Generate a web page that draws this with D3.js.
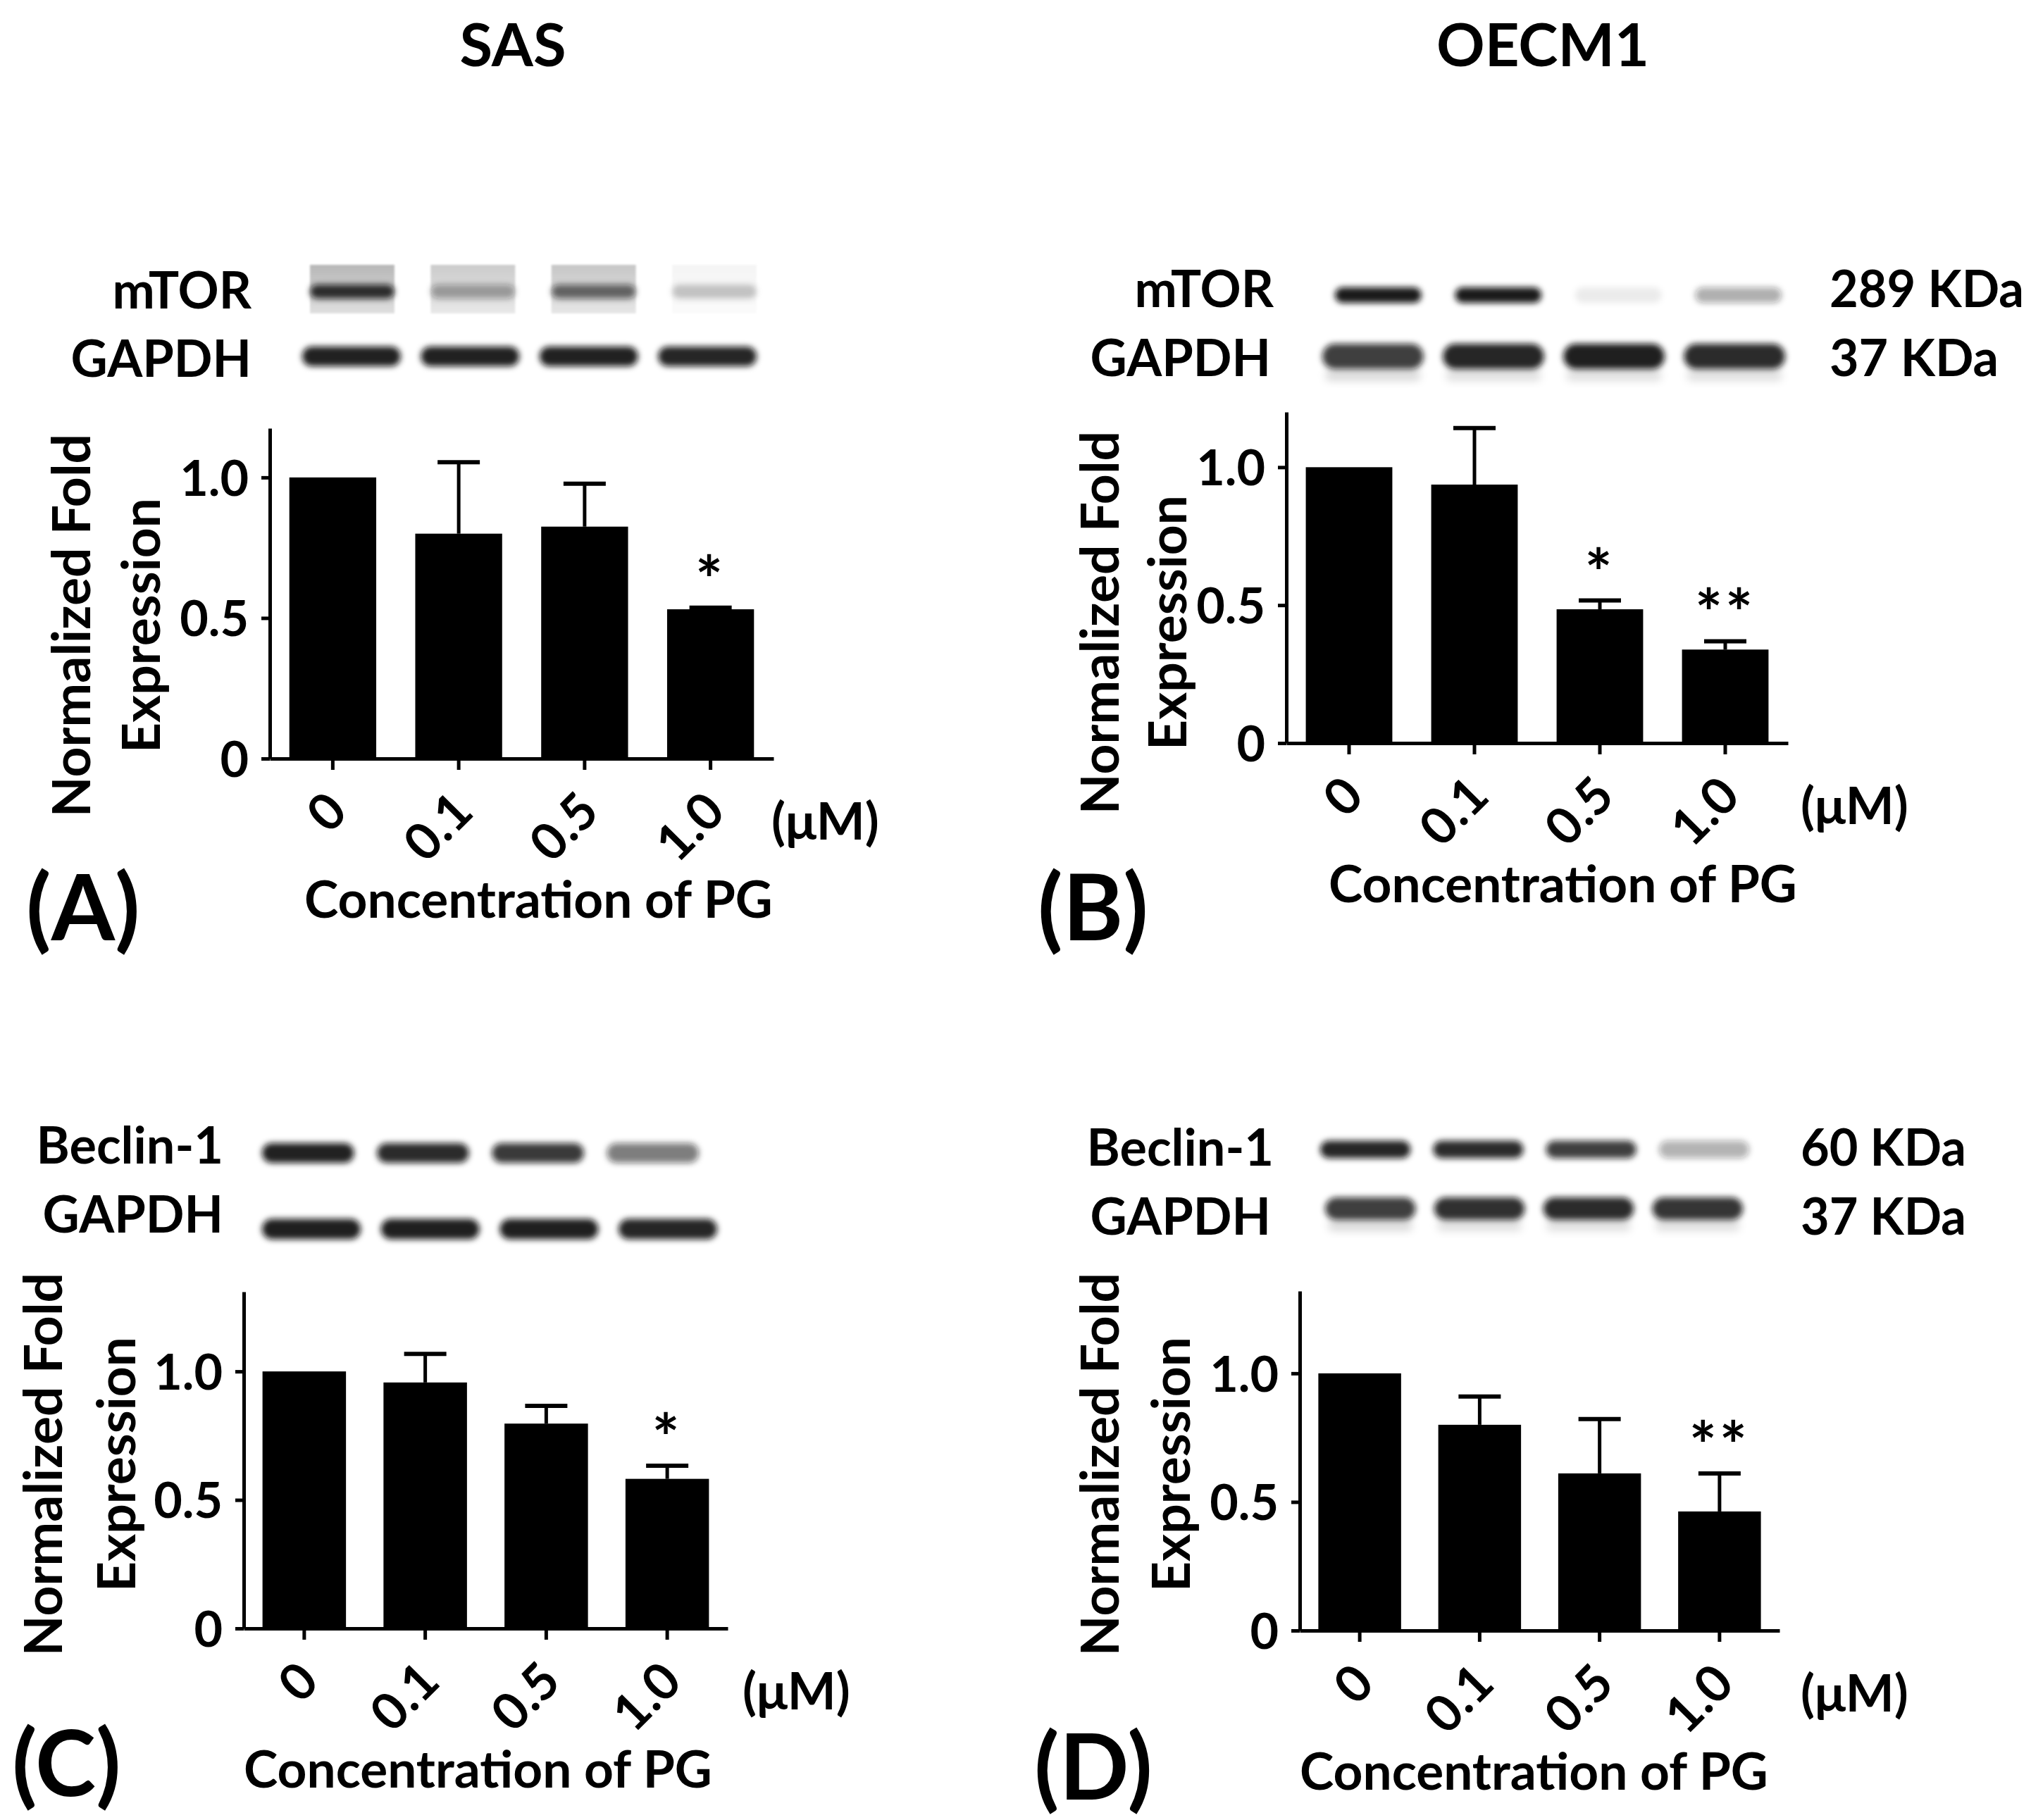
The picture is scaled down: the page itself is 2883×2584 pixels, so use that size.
<!DOCTYPE html>
<html>
<head>
<meta charset="utf-8">
<script src="https://cdn.jsdelivr.net/npm/d3@7"></script>
<style>
  body { margin: 0; background: #fff; }
  text { font-family: Lato, "Open Sans", sans-serif; fill: #000; }
</style>
</head>
<body>
<div id="fig"></div>
<script>
// --- data ---
var doses = ["0", "0.1", "0.5", "1.0"];
var yTicks = [0, 0.5, 1.0];

// normalized fold expression (mean) and upper error (SD)
var mtorSasMean = [1.0, 0.80, 0.825, 0.531];
var mtorSasErr = [0, 0.254, 0.153, 0.006];
var mtorSasStar = ["", "", "", "*"];

var mtorOecmMean = [1.0, 0.937, 0.485, 0.339];
var mtorOecmErr = [0, 0.205, 0.032, 0.030];
var mtorOecmStar = ["", "", "*", "**"];

var beclinSasMean = [1.0, 0.957, 0.797, 0.582];
var beclinSasErr = [0, 0.111, 0.069, 0.051];
var beclinSasStar = ["", "", "", "*"];

var beclinOecmMean = [1.0, 0.80, 0.611, 0.463];
var beclinOecmErr = [0, 0.11, 0.211, 0.148];
var beclinOecmStar = ["", "", "", "**"];

// western blot band darkness per lane (0 = blank, 1 = black)
var mtorSasBand = [0.85, 0.35, 0.6, 0.22];
var mtorSasLane = [0.28, 0.2, 0.22, 0.04];
var gapdhSasBandA = [0.92, 0.92, 0.92, 0.9];
var mtorOecmBand = [0.95, 0.95, 0.08, 0.35];
var gapdhOecmBandB = [0.8, 0.9, 0.93, 0.88];
var gapdhOecmGhostB = [0.14, 0.12, 0.12, 0.12];
var beclinSasBand = [0.92, 0.88, 0.82, 0.55];
var gapdhSasBandC = [0.93, 0.93, 0.93, 0.9];
var beclinOecmBand = [0.9, 0.88, 0.8, 0.33];
var gapdhOecmBandD = [0.8, 0.86, 0.88, 0.84];
var gapdhOecmGhostD = [0.14, 0.12, 0.12, 0.12];

var cellLines = ["SAS", "OECM1"];
var panelLetters = ["(A)", "(B)", "(C)", "(D)"];
var yTitle = ["Normalized Fold", "Expression"];
var xTitle = "Concentration of PG";
var unitLabel = "(\u03bcM)";

var W = 2883, H = 2584;

var svg = d3.select("#fig").append("svg")
    .attr("width", W)
    .attr("height", H);

svg.append("rect").attr("width", W).attr("height", H).attr("fill", "white");

var defs = svg.append("defs");
defs.append("filter").attr("id", "blur")
    .attr("x", "-20%").attr("y", "-60%").attr("width", "140%").attr("height", "220%")
    .append("feGaussianBlur").attr("stdDeviation", 4);
defs.append("filter").attr("id", "blurSoft")
    .attr("x", "-20%").attr("y", "-60%").attr("width", "140%").attr("height", "220%")
    .append("feGaussianBlur").attr("stdDeviation", 6);
defs.append("filter").attr("id", "blurEdge")
    .attr("x", "-10%").attr("y", "-10%").attr("width", "120%").attr("height", "120%")
    .append("feGaussianBlur").attr("stdDeviation", 1.5);
// lane background a bit darker on top, like the scanned film
var lg = defs.append("linearGradient").attr("id", "laneGrad")
    .attr("x1", 0).attr("y1", 0).attr("x2", 0).attr("y2", 1);
lg.append("stop").attr("offset", "0%").attr("stop-color", "#000").attr("stop-opacity", 1);
lg.append("stop").attr("offset", "100%").attr("stop-color", "#000").attr("stop-opacity", 0.45);

// shrink a text horizontally when the fallback font is wider than the original
function fitWidth(sel, maxW) {
    sel.each(function() {
        var len = this.getComputedTextLength();
        if (len > maxW) {
            d3.select(this).attr("textLength", maxW).attr("lengthAdjust", "spacingAndGlyphs");
        }
    });
}

// column headers
svg.selectAll(".header")
    .data(cellLines)
    .enter()
    .append("text")
    .attr("class", "header")
    .attr("x", function(d, i) { return i == 0 ? 728 : 2190; })
    .attr("y", 94)
    .attr("text-anchor", "middle")
    .style("font-size", "85px")
    .style("font-weight", 700)
    .text(function(d) { return d; });

/**
 * one row of western blot bands
 */
function drawBlot(row) {
    var xb = d3.scaleBand().domain(doses).range([row.x0, row.x1]).paddingInner(row.pad);
    var g = svg.append("g");

    if (row.lane) {
        g.selectAll("lane")
            .data(row.lane)
            .enter()
            .append("rect")
            .attr("x", function(d, i) { return xb(doses[i]); })
            .attr("y", row.laneY0)
            .attr("width", xb.bandwidth())
            .attr("height", row.laneY1 - row.laneY0)
            .attr("fill", "url(#laneGrad)")
            .attr("opacity", function(d) { return d; })
            .attr("filter", "url(#blurEdge)");
    }
    if (row.ghost) {
        g.selectAll("ghost")
            .data(row.ghost)
            .enter()
            .append("rect")
            .attr("x", function(d, i) { return xb(doses[i]) + 4; })
            .attr("y", row.y + row.ghostDy - 8)
            .attr("width", xb.bandwidth() - 8)
            .attr("height", 16)
            .attr("rx", 8)
            .attr("fill", "#000")
            .attr("fill-opacity", function(d) { return d; })
            .attr("filter", "url(#blurSoft)");
    }
    g.selectAll("band")
        .data(row.values)
        .enter()
        .append("rect")
        .attr("x", function(d, i) { return xb(doses[i]); })
        .attr("y", row.y - row.h / 2)
        .attr("width", xb.bandwidth())
        .attr("height", row.h)
        .attr("rx", row.h / 2)
        .attr("fill", "#111")
        .attr("fill-opacity", function(d) { return d; })
        .attr("filter", "url(#blur)");

    svg.append("text")
        .attr("x", row.labelX)
        .attr("y", row.labelY)
        .attr("text-anchor", "end")
        .style("font-size", "72px")
        .style("font-weight", 700)
        .text(row.label);

    if (row.kda) {
        svg.append("text")
            .attr("x", row.kdaX)
            .attr("y", row.labelY)
            .style("font-size", "72px")
            .style("font-weight", 700)
            .text(row.kda)
            .call(fitWidth, row.kdaW);
    }
}

/**
 * bar chart with upward error bars
 */
function drawBars(p) {
    var g = svg.append("g");

    var x = d3.scaleBand()
        .domain(doses)
        .range([p.x0, p.x1])
        .paddingInner(0.31)
        .paddingOuter(0.155);

    var y = d3.scaleLinear()
        .domain([0, p.yMax])
        .range([p.base, p.top]);

    // bars
    g.selectAll("bar")
        .data(p.mean)
        .enter()
        .append("rect")
        .attr("x", function(d, i) { return x(doses[i]); })
        .attr("y", function(d) { return y(d); })
        .attr("width", x.bandwidth())
        .attr("height", function(d) { return p.base - y(d); })
        .attr("fill", "#000");

    // error bars
    var eb = p.mean.map(function(m, i) { return { m: m, e: p.err[i], dose: doses[i], star: p.star[i] }; });
    var withErr = eb.filter(function(d) { return d.e > 0; });
    g.selectAll("errline")
        .data(withErr)
        .enter()
        .append("line")
        .attr("x1", function(d) { return x(d.dose) + x.bandwidth() / 2; })
        .attr("x2", function(d) { return x(d.dose) + x.bandwidth() / 2; })
        .attr("y1", function(d) { return y(d.m); })
        .attr("y2", function(d) { return y(d.m + d.e); })
        .attr("stroke", "#000")
        .attr("stroke-width", 5);
    g.selectAll("errcap")
        .data(withErr)
        .enter()
        .append("line")
        .attr("x1", function(d) { return x(d.dose) + x.bandwidth() / 2 - 30; })
        .attr("x2", function(d) { return x(d.dose) + x.bandwidth() / 2 + 30; })
        .attr("y1", function(d) { return y(d.m + d.e); })
        .attr("y2", function(d) { return y(d.m + d.e); })
        .attr("stroke", "#000")
        .attr("stroke-width", 6);

    // significance stars
    g.selectAll("star")
        .data(eb.filter(function(d) { return d.star != ""; }))
        .enter()
        .append("text")
        .attr("x", function(d) { return x(d.dose) + x.bandwidth() / 2; })
        .attr("y", function(d) { return y(d.m + d.e) - 6; })
        .attr("text-anchor", "middle")
        .style("font-size", "92px")
        .style("font-weight", 700)
        .style("letter-spacing", "4px")
        .text(function(d) { return d.star; });

    // y axis
    var ya = g.append("g")
        .attr("transform", "translate(" + p.x0 + ",0)")
        .call(d3.axisLeft(y).tickValues(yTicks).tickSize(12).tickSizeOuter(0)
            .tickFormat(function(d) { return d == 0 ? "0" : d3.format(".1f")(d); }));
    ya.select(".domain").attr("stroke-width", 5);
    ya.selectAll(".tick line").attr("stroke-width", 5);
    ya.selectAll("text")
        .attr("x", -30)
        .attr("dy", "0.36em")
        .style("font-size", "70px")
        .style("font-weight", 700)
        .style("font-family", "Lato, sans-serif")
        .attr("fill", "#000");

    // x axis
    var xa = g.append("g")
        .attr("transform", "translate(0," + p.base + ")")
        .call(d3.axisBottom(x).tickSize(16).tickSizeOuter(0));
    xa.select(".domain").attr("stroke-width", 5);
    xa.selectAll(".tick line").attr("stroke-width", 5);
    xa.selectAll("text")
        .attr("x", 0)
        .attr("y", 0)
        .attr("dy", 0)
        .attr("transform", "translate(24,79) rotate(-45)")
        .style("text-anchor", "end")
        .style("font-size", "72px")
        .style("font-weight", 700)
        .style("font-family", "Lato, sans-serif")
        .attr("fill", "#000");

    // unit
    svg.append("text")
        .attr("x", p.unitX)
        .attr("y", p.base + 115)
        .style("font-size", "73px")
        .style("font-weight", 700)
        .text(unitLabel);

    // x title
    svg.append("text")
        .attr("x", p.xTitleX)
        .attr("y", p.base + 226)
        .style("font-size", "73px")
        .style("font-weight", 700)
        .text(xTitle);

    // y title, two lines
    svg.selectAll("ytitle")
        .data(yTitle)
        .enter()
        .append("text")
        .attr("transform", function(d, i) {
            return "translate(" + p.yTitleX[i] + "," + p.yTitleY + ") rotate(-90)";
        })
        .attr("text-anchor", "middle")
        .style("font-size", "75px")
        .style("font-weight", 700)
        .text(function(d) { return d; });

    // panel letter
    svg.append("text")
        .attr("x", p.letterX)
        .attr("y", p.letterY)
        .style("font-size", "130px")
        .style("font-weight", 700)
        .text(p.letter);
}

// ----- panel A : SAS mTOR -----
drawBlot({ values: mtorSasBand, lane: mtorSasLane, laneY0: 376, laneY1: 445,
    x0: 440, x1: 1074, pad: 0.3, y: 414, h: 20, label: "mTOR", labelX: 357, labelY: 438 });
drawBlot({ values: gapdhSasBandA, x0: 429, x1: 1074, pad: 0.17, y: 506, h: 28,
    label: "GAPDH", labelX: 357, labelY: 535 });
drawBars({ mean: mtorSasMean, err: mtorSasErr, star: mtorSasStar,
    x0: 383, x1: 1098, base: 1077, top: 608, yMax: 1.175,
    unitX: 1095, xTitleX: 432, yTitleX: [128, 227], yTitleY: 888,
    letter: panelLetters[0], letterX: 37, letterY: 1335 });

// ----- panel B : OECM1 mTOR -----
drawBlot({ values: mtorOecmBand, x0: 1895, x1: 2529, pad: 0.28, y: 419, h: 22,
    label: "mTOR", labelX: 1808, labelY: 436, kda: "289 KDa", kdaX: 2597, kdaW: 276 });
drawBlot({ values: gapdhOecmBandB, ghost: gapdhOecmGhostB, ghostDy: 27,
    x0: 1877, x1: 2534, pad: 0.16, y: 506, h: 36,
    label: "GAPDH", labelX: 1804, labelY: 534, kda: "37 KDa", kdaX: 2597, kdaW: 240 });
drawBars({ mean: mtorOecmMean, err: mtorOecmErr, star: mtorOecmStar,
    x0: 1826, x1: 2538, base: 1055, top: 585, yMax: 1.2,
    unitX: 2556, xTitleX: 1886, yTitleX: [1588, 1684], yTitleY: 884,
    letter: panelLetters[1], letterX: 1473, letterY: 1335 });

// ----- panel C : SAS Beclin-1 -----
drawBlot({ values: beclinSasBand, x0: 372, x1: 992, pad: 0.2, y: 1637, h: 28,
    label: "Beclin-1", labelX: 317, labelY: 1652 });
drawBlot({ values: gapdhSasBandC, x0: 372, x1: 1018, pad: 0.17, y: 1745, h: 29,
    label: "GAPDH", labelX: 317, labelY: 1750 });
drawBars({ mean: beclinSasMean, err: beclinSasErr, star: beclinSasStar,
    x0: 346, x1: 1033, base: 2312, top: 1834, yMax: 1.31,
    unitX: 1054, xTitleX: 346, yTitleX: [88, 192], yTitleY: 2079,
    letter: panelLetters[2], letterX: 17, letterY: 2550 });

// ----- panel D : OECM1 Beclin-1 -----
drawBlot({ values: beclinOecmBand, x0: 1874, x1: 2483, pad: 0.2, y: 1632, h: 25,
    label: "Beclin-1", labelX: 1808, labelY: 1655, kda: "60 KDa", kdaX: 2556, kdaW: 235 });
drawBlot({ values: gapdhOecmBandD, ghost: gapdhOecmGhostD, ghostDy: 24,
    x0: 1881, x1: 2474, pad: 0.17, y: 1716, h: 32,
    label: "GAPDH", labelX: 1804, labelY: 1753, kda: "37 KDa", kdaX: 2556, kdaW: 235 });
drawBars({ mean: beclinOecmMean, err: beclinOecmErr, star: beclinOecmStar,
    x0: 1845, x1: 2526, base: 2315, top: 1833, yMax: 1.32,
    unitX: 2556, xTitleX: 1845, yTitleX: [1588, 1689], yTitleY: 2079,
    letter: panelLetters[3], letterX: 1468, letterY: 2555 });
</script>
</body>
</html>
